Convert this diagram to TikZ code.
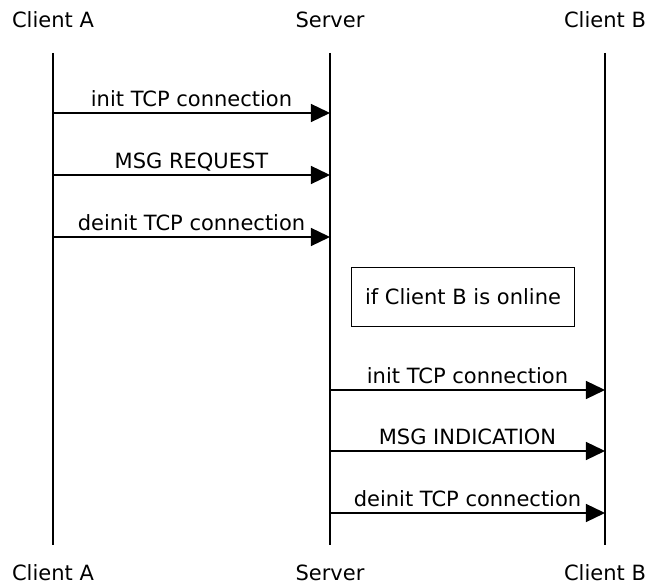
\documentclass[tikz,border=0pt]{standalone}
\usepackage{fontspec}
\setmainfont{DejaVu Sans}
\usetikzlibrary{arrows.meta}
\begin{document}
\begin{tikzpicture}[x=0.5pt, y=-0.5pt,
	every node/.style={font=\fontsize{10.5}{12}\selectfont},
	vida/.style={line width=0.65pt},
	mensaje/.style={line width=0.65pt, -{Triangle[length=9.5pt, width=9pt]}},
	etiqueta/.style={midway, anchor=base, yshift=3.3pt, inner sep=0pt}]
	\useasboundingbox (0,0) rectangle (650,587);

	% Participantes
		\node[anchor=base] (caArriba) at (53,28) {Client A};
		\node[anchor=base] (servArriba) at (330,28) {Server};
		\node[anchor=base] (cbArriba) at (605,28) {Client B};
		\node[anchor=base] (caAbajo) at (53,581) {Client A};
		\node[anchor=base] (servAbajo) at (330,581) {Server};
		\node[anchor=base] (cbAbajo) at (605,581) {Client B};

	% Lineas de vida
		\coordinate (ca1) at (53,53);   \coordinate (ca2) at (53,545);
		\coordinate (serv1) at (330,53); \coordinate (serv2) at (330,545);
		\coordinate (cb1) at (605,53);  \coordinate (cb2) at (605,545);
		\draw[vida] (ca1) -- (ca2);
		\draw[vida] (serv1) -- (serv2);
		\draw[vida] (cb1) -- (cb2);

	% Cliente A -> Servidor
		\coordinate (a1) at (53,113);  \coordinate (s1) at (330,113);
		\coordinate (a2) at (53,175);  \coordinate (s2) at (330,175);
		\coordinate (a3) at (53,237);  \coordinate (s3) at (330,237);
		\draw[mensaje] (a1) -- (s1) node[etiqueta] {init TCP connection};
		\draw[mensaje] (a2) -- (s2) node[etiqueta] {MSG REQUEST};
		\draw[mensaje] (a3) -- (s3) node[etiqueta] {deinit TCP connection};

	% Condicion
		\node[draw, line width=0.5pt, minimum width=111.5pt, minimum height=29.5pt] (condicion) at (463,297) {if Client B is online};

	% Servidor -> Cliente B
		\coordinate (s4) at (330,390);  \coordinate (b4) at (605,390);
		\coordinate (s5) at (330,451);  \coordinate (b5) at (605,451);
		\coordinate (s6) at (330,513);  \coordinate (b6) at (605,513);
		\draw[mensaje] (s4) -- (b4) node[etiqueta] {init TCP connection};
		\draw[mensaje] (s5) -- (b5) node[etiqueta] {MSG INDICATION};
		\draw[mensaje] (s6) -- (b6) node[etiqueta] {deinit TCP connection};
\end{tikzpicture}
\end{document}
